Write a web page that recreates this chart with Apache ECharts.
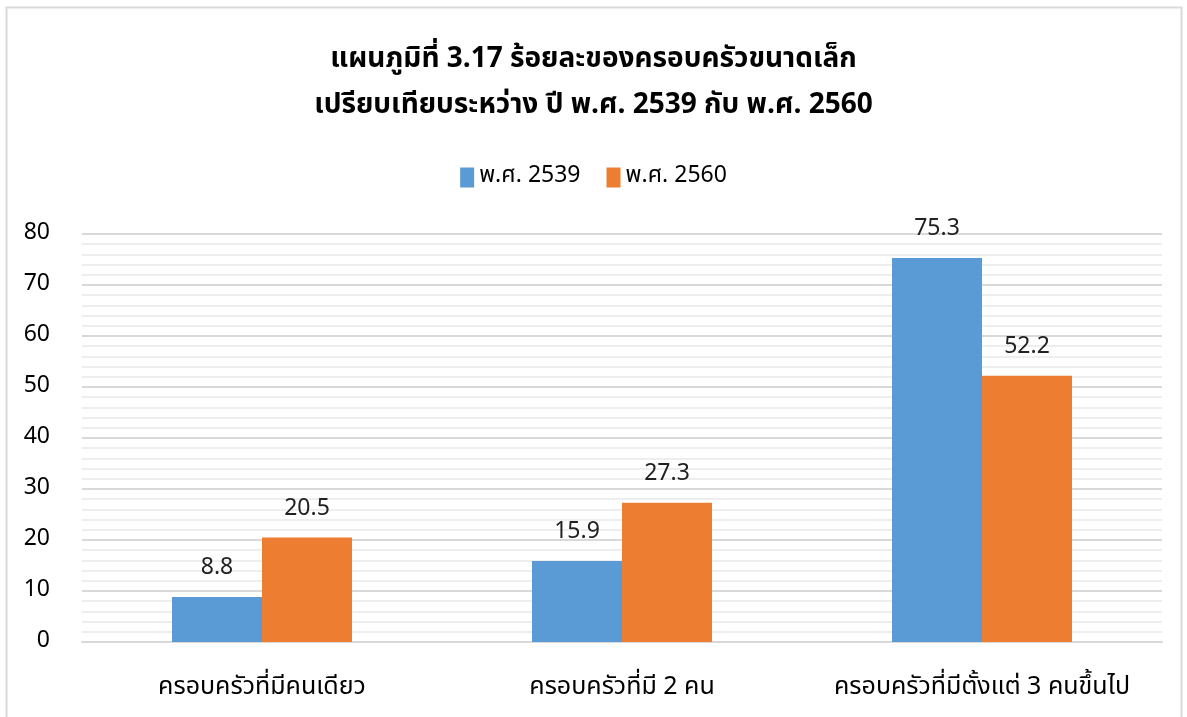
<!DOCTYPE html>
<html>
<head>
<meta charset="utf-8">
<script src="https://cdn.jsdelivr.net/npm/echarts@6/dist/echarts.min.js"></script>
<style>
  html, body { margin: 0; padding: 0; background: #fff; }
  #main { width: 1187px; height: 717px; }
</style>
</head>
<body>
<div id="main"></div>
<script>
// data
const categories = ["ครอบครัวที่มีคนเดียว", "ครอบครัวที่มี 2 คน", "ครอบครัวที่มีตั้งแต่ 3 คนขึ้นไป"];
const seriesNames = ["พ.ศ. 2539", "พ.ศ. 2560"];
const values2539 = [8.8, 15.9, 75.3];
const values2560 = [20.5, 27.3, 52.2];

const FONT = "'Noto Sans Thai', Tahoma, 'Noto Sans', sans-serif";

let chart = echarts.init(document.getElementById("main"));
let option = {
  backgroundColor: "#fff",
  color: ["#5b9bd5", "#ed7d31"],
  graphic: [
    {
      type: "rect",
      shape: { x: 6.5, y: 7.5, width: 1175, height: 720 },
      style: { fill: "none", stroke: "#d9d9d9", lineWidth: 2 },
      silent: true,
    },
  ],
  title: {
    text: "แผนภูมิที่ 3.17 ร้อยละของครอบครัวขนาดเล็ก\nเปรียบเทียบระหว่าง ปี พ.ศ. 2539 กับ พ.ศ. 2560",
    left: "center",
    top: 33,
    textStyle: {
      fontFamily: FONT,
      fontSize: 28,
      fontWeight: "bold",
      color: "#000",
      lineHeight: 46,
    },
  },
  legend: {
    data: seriesNames,
    top: 161,
    left: "center",
    itemWidth: 14,
    itemHeight: 20,
    itemGap: 26,
    icon: "rect",
    textStyle: { fontFamily: FONT, fontSize: 23, color: "#000" },
  },
  grid: {
    left: 82,
    right: 25,
    top: 234,
    bottom: 75,
  },
  xAxis: {
    type: "category",
    data: categories,
    axisTick: { show: false },
    axisLine: { lineStyle: { color: "#d9d9d9", width: 2 } },
    axisLabel: {
      interval: 0,
      hideOverlap: false,
      fontFamily: FONT,
      fontSize: 25,
      color: "#000",
      margin: 34,
    },
  },
  yAxis: {
    type: "value",
    min: 0,
    max: 80,
    interval: 10,
    axisLine: { show: false },
    axisTick: { show: false },
    axisLabel: {
      fontFamily: FONT,
      fontSize: 23,
      color: "#000",
      margin: 32,
      align: "right",
    },
    splitLine: { lineStyle: { color: "#d9d9d9", width: 2 } },
    minorTick: { show: false, splitNumber: 5 },
    minorSplitLine: { show: true, lineStyle: { color: "#eeeeee", width: 2 } },
  },
  series: [
    {
      name: seriesNames[0],
      type: "bar",
      data: values2539,
      barWidth: 90,
      barGap: "0%",
      label: {
        show: true,
        position: "top",
        distance: 16,
        fontFamily: FONT,
        fontSize: 23,
        color: "#222",
      },
    },
    {
      name: seriesNames[1],
      type: "bar",
      data: values2560,
      barWidth: 90,
      barGap: "0%",
      label: {
        show: true,
        position: "top",
        distance: 16,
        fontFamily: FONT,
        fontSize: 23,
        color: "#222",
      },
    },
  ],
};
chart.setOption(option);
</script>
</body>
</html>
